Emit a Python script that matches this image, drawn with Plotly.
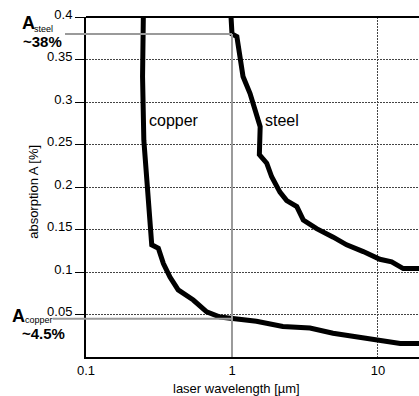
import numpy as np
import plotly.graph_objects as go

# Absorption of copper and steel versus laser wavelength
copper_wl = [0.247, 0.244, 0.249, 0.261, 0.274, 0.282, 0.313, 0.339, 0.376, 0.428,
             0.543, 0.671, 0.828, 1.0, 1.47, 2.23, 3.42, 4.92, 6.74, 9.8, 14.2, 19.5]
copper_abs = [0.40, 0.33, 0.255, 0.20, 0.165, 0.132, 0.128, 0.11, 0.094, 0.079,
              0.067, 0.053, 0.047, 0.045, 0.042, 0.036, 0.034, 0.028, 0.024, 0.020, 0.016, 0.016]

steel_wl = [0.985, 1.0, 1.08, 1.13, 1.19, 1.33, 1.47, 1.56, 1.54, 1.73, 1.87, 2.13,
            2.37, 2.78, 3.08, 3.80, 4.94, 6.1, 7.93, 10.3, 12.4, 14.9, 19.5]
steel_abs = [0.40, 0.38, 0.377, 0.35, 0.33, 0.31, 0.287, 0.271, 0.238, 0.228, 0.212, 0.194,
             0.184, 0.177, 0.161, 0.151, 0.141, 0.132, 0.124, 0.115, 0.112, 0.104, 0.104]

# Marked reference values at 1 µm
ref_wl = 1.0
steel_ref = 0.38
copper_ref = 0.045

y_ticks = [0.05, 0.1, 0.15, 0.2, 0.25, 0.3, 0.35, 0.4]
y_ticklabels = ["0.05", "0.1", "0.15", "0.2", "0.25", "0.3", "0.35", "0.4"]
x_ticks = [0.1, 1, 10]
x_ticklabels = ["0.1", "1", "10"]

FONT = "Liberation Sans, Arial, sans-serif"
X_RANGE = [-1.0, 1.281]


def xpaper(v):
    return (np.log10(v) - X_RANGE[0]) / (X_RANGE[1] - X_RANGE[0])


fig = go.Figure()
for wl, ab in ((copper_wl, copper_abs), (steel_wl, steel_abs)):
    fig.add_trace(go.Scatter(x=wl, y=ab, mode="lines",
                             line=dict(color="black", width=5),
                             showlegend=False, hoverinfo="skip"))

grey = "#9a9a9a"
shapes = [
    # top border
    dict(type="line", xref="paper", yref="paper", x0=0, x1=1, y0=1, y1=1,
         line=dict(color="black", width=2)),
    # reference markers
    dict(type="line", xref="paper", yref="y", x0=-0.063, x1=xpaper(ref_wl),
         y0=steel_ref, y1=steel_ref, line=dict(color=grey, width=2)),
    dict(type="line", xref="paper", yref="y", x0=-0.10, x1=xpaper(ref_wl),
         y0=copper_ref, y1=copper_ref, line=dict(color=grey, width=2)),
    dict(type="line", xref="x", yref="y", x0=ref_wl, x1=ref_wl,
         y0=0, y1=steel_ref, line=dict(color=grey, width=2)),
]


def label(text, x, y, size, xref="paper", yref="y", **kw):
    return dict(text=text, x=x, y=y, xref=xref, yref=yref,
                xanchor=kw.pop("xanchor", "left"), yanchor="middle",
                showarrow=False, font=dict(size=size, family=FONT, color="black"), **kw)


annotations = [
    label("copper", np.log10(0.262), 0.278, 16, xref="x"),
    label("steel", np.log10(1.62), 0.278, 16, xref="x"),
    # steel marker label
    label("<b>A</b>", -0.198, 0.3935, 18),
    label("steel", -0.161, 0.386, 9),
    label("<b>~38%</b>", -0.194, 0.3706, 15),
    # copper marker label
    label("<b>A</b>", -0.229, 0.0488, 18),
    label("copper", -0.19, 0.0435, 9),
    label("<b>~4.5%</b>", -0.199, 0.0282, 15),
    # axis titles
    label("laser wavelength [µm]", xpaper(1.0) + 0.013, -0.093, 13,
          yref="paper", xanchor="center"),
    label("absorption A [%]", -0.16, 0.485, 13, yref="paper",
          xanchor="center", textangle=-90),
]

grid_style = dict(showgrid=True, gridcolor="#444444", griddash="2px,1px", gridwidth=1)

fig.update_layout(
    width=419, height=396,
    margin=dict(l=86, r=0, t=17, b=39),
    plot_bgcolor="white", paper_bgcolor="white",
    font=dict(family=FONT, size=13, color="black"),
    shapes=shapes, annotations=annotations,
    xaxis=dict(type="log", range=X_RANGE, tickvals=x_ticks, ticktext=x_ticklabels,
               showline=True, linecolor="black", linewidth=2, **grid_style,
               ticks="", zeroline=False,
               tickfont=dict(size=13, family=FONT, color="black")),
    yaxis=dict(range=[0, 0.4], tickvals=y_ticks, ticktext=y_ticklabels,
               showline=True, linecolor="black", linewidth=2, **grid_style,
               ticks="outside", ticklen=9, tickcolor="black", tickwidth=1,
               zeroline=False, ticklabelshift=-3,
               tickfont=dict(size=13, family=FONT, color="black")),
)

fig.write_html("out.html")
